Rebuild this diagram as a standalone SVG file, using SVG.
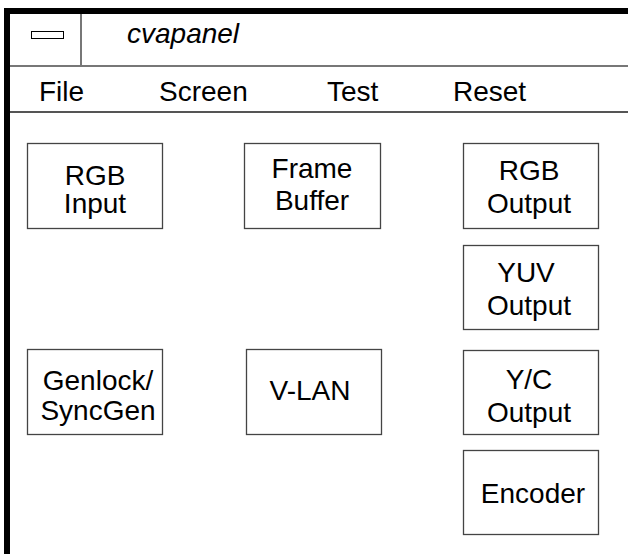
<svg xmlns="http://www.w3.org/2000/svg" width="628" height="554" viewBox="0 0 628 554">
<style>
text{font-family:"Liberation Sans",Arial,sans-serif;fill:#000}
.m{font-size:28px}
.b{font-size:28px;text-anchor:middle}
.box{fill:#fff;stroke:#444;stroke-width:1.3}
.sep{stroke:#777;stroke-width:2}
</style>
<rect width="628" height="554" fill="#fff"/>
<g id="frame">
<rect x="4" y="8" width="624" height="6" fill="#000"/>
<rect x="4" y="8" width="6" height="546" fill="#000"/>
</g>
<g id="titlebar">
<line class="sep" x1="81" y1="14" x2="81" y2="66"/>
<rect x="31.5" y="31.5" width="32" height="7" fill="#fff" stroke="#000" stroke-width="1"/>
<text x="127" y="43" font-size="28" font-style="italic">cvapanel</text>
<line class="sep" x1="10" y1="66" x2="628" y2="66"/>
</g>
<g id="menu">
<text class="m" x="39" y="101">File</text>
<text class="m" x="159" y="101">Screen</text>
<text class="m" x="327" y="101">Test</text>
<text class="m" x="453" y="101">Reset</text>
<line x1="10" y1="112" x2="628" y2="112" stroke="#555" stroke-width="2"/>
</g>
<g id="rgb-input"><rect class="box" x="27.5" y="143.5" width="135" height="85"/><text class="b" x="95" y="185">RGB</text><text class="b" x="95" y="213">Input</text></g>
<g id="frame-buffer"><rect class="box" x="244.5" y="143.5" width="136" height="85"/><text class="b" x="312" y="178">Frame</text><text class="b" x="312" y="210">Buffer</text></g>
<g id="rgb-output"><rect class="box" x="463.5" y="143.5" width="135" height="85"/><text class="b" x="529" y="180">RGB</text><text class="b" x="529" y="213">Output</text></g>
<g id="yuv-output"><rect class="box" x="463.5" y="245.5" width="135" height="84"/><text class="b" x="526" y="282">YUV</text><text class="b" x="529" y="315">Output</text></g>
<g id="genlock"><rect class="box" x="27.5" y="349.5" width="135" height="85"/><text class="b" x="98" y="390">Genlock/</text><text class="b" x="98" y="420">SyncGen</text></g>
<g id="v-lan"><rect class="box" x="246.5" y="349.5" width="135" height="85"/><text class="b" x="310" y="400">V-LAN</text></g>
<g id="yc-output"><rect class="box" x="463.5" y="350.5" width="135" height="84"/><text class="b" x="529" y="389">Y/C</text><text class="b" x="529" y="422">Output</text></g>
<g id="encoder"><rect class="box" x="463.5" y="450.5" width="135" height="84"/><text class="b" x="533" y="503">Encoder</text></g>
<g id="connectors"></g>
</svg>
